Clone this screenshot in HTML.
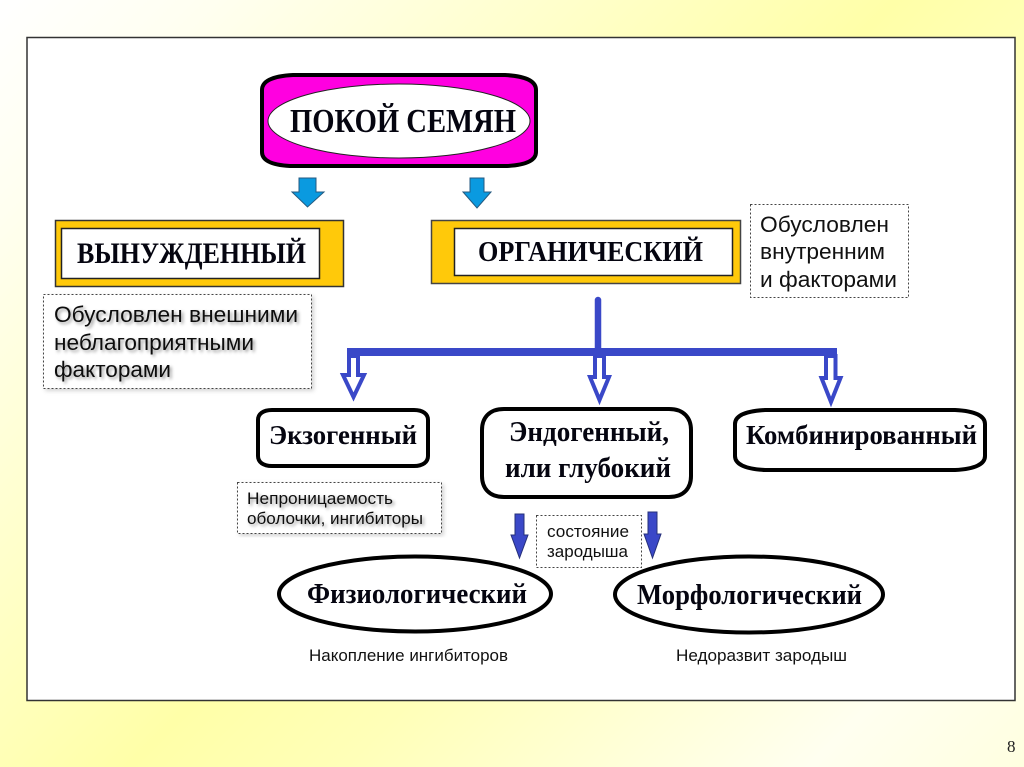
<!DOCTYPE html>
<html lang="ru"><head><meta charset="utf-8"><title>Покой семян</title>
<style>
html,body{margin:0;padding:0;width:1024px;height:767px;overflow:hidden}
body{background:linear-gradient(135deg,#ffffff 0%,#fffff0 12%,#ffffa8 50%,#ffffb8 62%,#fffff0 88%,#ffffe0 100%)}
svg{display:block}
.t{font-family:"Liberation Serif","Noto Serif CJK SC",serif;font-weight:bold;fill:#050510}
.a{font-family:"Liberation Sans","Noto Sans CJK SC",sans-serif;fill:#111}
.note{fill:#fff;stroke:#444;stroke-width:1;stroke-dasharray:2 2}
.sh{filter:url(#ts)}
.hollow{fill:#fff;stroke:#3a48c8;stroke-width:4;stroke-linejoin:miter}
.dark{fill:#3a48c8;stroke:#26307a;stroke-width:1}
.cy{fill:#0a9ae0;stroke:#245a80;stroke-width:1}
</style></head><body>
<svg width="1024" height="767" viewBox="0 0 1024 767" xmlns="http://www.w3.org/2000/svg">
<defs>
<filter id="ts" x="-5%" y="-20%" width="112%" height="150%"><feDropShadow dx="2" dy="2" stdDeviation="1.6" flood-color="#000" flood-opacity=".4"/></filter>
<filter id="bs" x="-5%" y="-5%" width="112%" height="112%"><feDropShadow dx="2" dy="2" stdDeviation="2" flood-color="#000" flood-opacity=".18"/></filter>
</defs>
<rect x="27" y="37.500" width="988" height="663" fill="#fff" stroke="#333" stroke-width="1.500"/>

<!-- main -->
<path d="M293 75H505C525 76 536 81 536 90V152C536 160 527 165 507 166H290C271 165 262 160 262 152V90C262 81 273 76 293 75Z" fill="#ff00e0" stroke="#000" stroke-width="4"/>
<ellipse cx="399" cy="121" rx="131" ry="37" fill="#fff" stroke="#222" stroke-width="1"/>
<text class="t" x="290" y="132" font-size="34" textLength="226" lengthAdjust="spacingAndGlyphs">ПОКОЙ СЕМЯН</text>

<!-- cyan arrows -->
<path class="cy" d="M299 178H316V192H324L307.500 207L292 192H299Z"/>
<path class="cy" d="M470 178H484V192H491L477 208L463 192H470Z"/>

<!-- vynuzhdenny -->
<rect x="55.500" y="220.500" width="288" height="66" fill="#ffc90a" stroke="#333" stroke-width="1.500"/>
<rect x="61.500" y="228.500" width="258" height="50" fill="#fff" stroke="#222" stroke-width="1.500"/>
<text class="t" x="77" y="263" font-size="30" textLength="229" lengthAdjust="spacingAndGlyphs">ВЫНУЖДЕННЫЙ</text>

<!-- organichesky -->
<rect x="431.500" y="220.500" width="309" height="63" fill="#ffc90a" stroke="#444" stroke-width="1.500"/>
<rect x="454.500" y="228.500" width="278" height="47" fill="#fff" stroke="#222" stroke-width="1.500"/>
<text class="t" x="478" y="261" font-size="29" textLength="225" lengthAdjust="spacingAndGlyphs">ОРГАНИЧЕСКИЙ</text>

<!-- note 1 -->
<rect class="note" x="43.500" y="294.500" width="268" height="94" filter="url(#bs)"/>
<g class="a sh" font-size="22.500">
<text x="54" y="322" textLength="244" lengthAdjust="spacingAndGlyphs">Обусловлен внешними</text>
<text x="54" y="350" textLength="200" lengthAdjust="spacingAndGlyphs">неблагоприятными</text>
<text x="54" y="377" textLength="117" lengthAdjust="spacingAndGlyphs">факторами</text>
</g>

<!-- note 2 -->
<rect class="note" x="750.500" y="204.500" width="158" height="93"/>
<g class="a" font-size="22.500">
<text x="760" y="232" textLength="129" lengthAdjust="spacingAndGlyphs">Обусловлен</text>
<text x="760" y="259" textLength="125" lengthAdjust="spacingAndGlyphs">внутренним</text>
<text x="760" y="287" textLength="137" lengthAdjust="spacingAndGlyphs">и факторами</text>
</g>

<!-- blue connectors -->
<path class="hollow" d="M349 356V375H343L353.500 397L364 375H358V356Z"/>
<path class="hollow" d="M595 356V377H590L599.500 400L609 377H604V356Z"/>
<path class="hollow" d="M826 356V378H821.500L831 402L840.500 378H835.500V356Z"/>
<path d="M598 300V350" stroke="#3a48c8" stroke-width="6.500" stroke-linecap="round" fill="none"/>
<rect x="347" y="348" width="490" height="8" fill="#3a48c8"/>

<!-- rounded boxes -->
<path d="M272 410H414C423 410 428 414 428 420V456C428 462 423 466 414 466H272C263 466 258 462 258 456V420C258 414 263 410 272 410Z" fill="#fff" stroke="#000" stroke-width="4"/>
<text class="t" x="269" y="444" font-size="27" textLength="148" lengthAdjust="spacingAndGlyphs">Экзогенный</text>

<path d="M504 409H669C684 409 691 418 691 430V476C691 488 684 497 669 497H504C489 497 482 488 482 476V430C482 418 489 409 504 409Z" fill="#fff" stroke="#000" stroke-width="4"/>
<text class="t" x="509" y="441" font-size="28" textLength="160" lengthAdjust="spacingAndGlyphs">Эндогенный,</text>
<text class="t" x="505" y="477" font-size="28" textLength="166" lengthAdjust="spacingAndGlyphs">или глубокий</text>

<path d="M765 410H955C975 411 985 416 985 424V456C985 464 975 469 955 470H765C745 469 735 464 735 456V424C735 416 745 411 765 410Z" fill="#fff" stroke="#000" stroke-width="4"/>
<text class="t" x="746" y="444" font-size="27" textLength="231" lengthAdjust="spacingAndGlyphs">Комбинированный</text>

<!-- note 3 -->
<rect class="note" x="237.500" y="482.500" width="204" height="51" filter="url(#bs)"/>
<g class="a sh" font-size="16.500">
<text x="247" y="504" textLength="146" lengthAdjust="spacingAndGlyphs">Непроницаемость</text>
<text x="247" y="524" textLength="176" lengthAdjust="spacingAndGlyphs">оболочки, ингибиторы</text>
</g>

<!-- note 4 -->
<rect class="note" x="536.500" y="515.500" width="105" height="52"/>
<g class="a" font-size="16.500">
<text x="547" y="537" textLength="82" lengthAdjust="spacingAndGlyphs">состояние</text>
<text x="547" y="557" textLength="81" lengthAdjust="spacingAndGlyphs">зародыша</text>
</g>

<!-- dark arrows -->
<path class="dark" d="M515 514H524V535H528L519.500 558L511 535H515Z"/>
<path class="dark" d="M648 512H657V534H661L652.500 558L644 534H648Z"/>

<!-- ellipses -->
<ellipse cx="415" cy="594" rx="136" ry="37.500" fill="#fff" stroke="#000" stroke-width="4"/>
<text class="t" x="307" y="603" font-size="28" textLength="220" lengthAdjust="spacingAndGlyphs">Физиологический</text>
<ellipse cx="749" cy="594.500" rx="134" ry="38" fill="#fff" stroke="#000" stroke-width="4"/>
<text class="t" x="637" y="604" font-size="28" textLength="225" lengthAdjust="spacingAndGlyphs">Морфологический</text>

<!-- labels -->
<text class="a" x="309" y="661" font-size="17" textLength="199" lengthAdjust="spacingAndGlyphs">Накопление ингибиторов</text>
<text class="a" x="676" y="661" font-size="17" textLength="171" lengthAdjust="spacingAndGlyphs">Недоразвит зародыш</text>

<text x="1007" y="752" font-family="Liberation Serif,serif" font-size="17" fill="#222">8</text>
</svg>
</body></html>
